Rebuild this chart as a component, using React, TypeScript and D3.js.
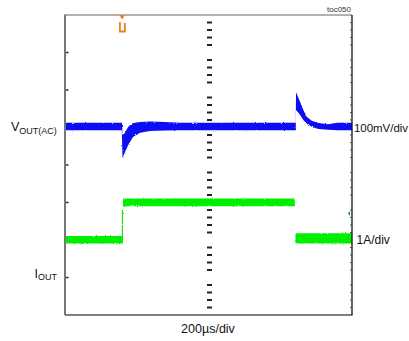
import React from "react";
import * as d3 from "d3";

// Time axis: 10 divisions x 200 µs
const TIME_RANGE_US = [0, 2000];
const Y_DIVS = 8;
const TRIGGER_T = 398;

// VOUT(AC) envelope (mV), 100 mV/div
const VOUT_T = [0, 396, 397, 401, 418, 432, 441, 474, 523, 592, 697, 800, 1603, 1608, 1610, 1638, 1661, 1684, 1719, 1765, 1833, 1900, 2000];
const VOUT_LO = [-10, -10, -28, -84, -68, -57, -49, -28, -17, -12, -11, -10, -10, -10, 44, 31, 17, 8, -1, -7, -9, -10, -10];
const VOUT_HI = [10, 10, 10, -23, -17, -7, -1, 9, 12, 13, 12, 10, 10, 10, 91, 66, 44, 26, 15, 9, 6, 10, 10];
const VOUT_OFFSET_DIV = 1.03;
const VOUT_MV_PER_DIV = 100;

// IOUT envelope (A), 1 A/div
const IOUT_T = [0, 396, 396.5, 404, 404.5, 1601, 1603, 1606, 2000];
const IOUT_LO: (number | null)[] = [-0.1, -0.1, -0.1, -0.1, 0.89, 0.89, null, -0.1, -0.1];
const IOUT_HI: (number | null)[] = [0.1, 0.1, 0.79, 0.79, 1.1, 1.1, null, 0.17, 0.17];
const IOUT_OFFSET_DIV = -1.99;
const IOUT_A_PER_DIV = 1;
const IOUT_MARKER_DIV = -1.29;

const W = 409;
const H = 341;
const L = 65, R = 352, T = 15, B = 315;

export default function App() {
  const x = d3.scaleLinear().domain(TIME_RANGE_US).range([L, R]);
  const y = d3.scaleLinear().domain([-Y_DIVS / 2, Y_DIVS / 2]).range([B, T]);

  const vData = VOUT_T.map((t, i) => ({ t, lo: VOUT_LO[i], hi: VOUT_HI[i] }));
  const iData = IOUT_T.map((t, i) => ({ t, lo: IOUT_LO[i], hi: IOUT_HI[i] }));

  const vArea = d3
    .area<{ t: number; lo: number; hi: number }>()
    .x((d) => x(d.t))
    .y0((d) => y(VOUT_OFFSET_DIV + d.lo / VOUT_MV_PER_DIV))
    .y1((d) => y(VOUT_OFFSET_DIV + d.hi / VOUT_MV_PER_DIV));
  const iArea = d3
    .area<{ t: number; lo: number | null; hi: number | null }>()
    .defined((d) => d.lo != null && d.hi != null)
    .x((d) => x(d.t))
    .y0((d) => y(IOUT_OFFSET_DIV + (d.lo as number) / IOUT_A_PER_DIV))
    .y1((d) => y(IOUT_OFFSET_DIV + (d.hi as number) / IOUT_A_PER_DIV));

  const majorY = d3.range(1, Y_DIVS).map((k) => y(-Y_DIVS / 2 + k));
  const minorY = d3
    .range(1, Y_DIVS * 5)
    .filter((j) => j % 5 !== 0)
    .map((j) => y(-Y_DIVS / 2 + j / 5));
  const xc = x((TIME_RANGE_US[0] + TIME_RANGE_US[1]) / 2);
  const xt = x(TRIGGER_T);
  const ym = y(IOUT_MARKER_DIV);
  const font = "'Liberation Sans', Arial, sans-serif";

  return (
    <svg
      width={W}
      height={H}
      style={{ position: "absolute", left: 0, top: 0, display: "block", background: "#fff" }}
      fontFamily={font}
    >
      <defs>
        <filter id="rough" x="-5%" y="-20%" width="110%" height="140%">
          <feTurbulence type="fractalNoise" baseFrequency="0.9" numOctaves="1" seed="4" />
          <feDisplacementMap in="SourceGraphic" scale="2.5" xChannelSelector="R" yChannelSelector="G" />
        </filter>
      </defs>

      {/* center dashed graticule */}
      {minorY.map((yy, i) => (
        <rect key={"c" + i} x={xc - 1.5} y={yy - 1} width={5} height={2} fill="#222" />
      ))}
      {/* left major ticks */}
      {majorY.map((yy, i) => (
        <rect key={"l" + i} x={L} y={yy - 0.75} width={3.5} height={1.5} fill="#333" />
      ))}
      {/* right minor ticks */}
      {minorY.map((yy, i) => (
        <rect key={"r" + i} x={R - 2} y={yy - 0.5} width={1.5} height={1} fill="#555" />
      ))}

      {/* traces */}
      <path d={iArea(iData) || ""} fill="#00ee00" filter="url(#rough)" />
      <path d={vArea(vData) || ""} fill="#0a0af5" filter="url(#rough)" />

      {/* frame */}
      <line x1={L} y1={T} x2={R} y2={T} stroke="#666" strokeWidth={1.2} />
      <line x1={L} y1={T - 0.5} x2={L} y2={B} stroke="#777" strokeWidth={2} />
      <line x1={L} y1={B} x2={R + 0.5} y2={B} stroke="#555" strokeWidth={1.5} />
      <line x1={R} y1={T} x2={R} y2={B} stroke="#111" strokeWidth={1.3} />

      {/* markers */}
      <path d={`M${xt - 2.8},${T} L${xt + 2.8},${T} L${xt},${T + 4.5} Z`} fill="#f08018" />
      <path
        d={`M${xt - 2.2},${T + 7} V${T + 16.5} H${xt + 2.8} V${T + 8}`}
        fill="none"
        stroke="#f08018"
        strokeWidth={1.8}
      />
      <path d={`M${R - 4},${ym} L${R - 2},${ym - 2.5} L${R - 2},${ym + 2.5} Z`} fill="#1c9a1c" />

      {/* labels */}
      <text x={R - 1} y={12} fontSize={8} textAnchor="end" fill="#333">toc050</text>
      <text x={11} y={131} fontSize={12.5} fill="#111">
        V<tspan fontSize={9} dy={2.5}>OUT(AC)</tspan>
      </text>
      <text x={34.5} y={277.5} fontSize={12.5} fill="#111">
        I<tspan fontSize={9} dy={2}>OUT</tspan>
      </text>
      <text x={354} y={132} fontSize={11.5} fill="#111" textLength={54} lengthAdjust="spacingAndGlyphs">100mV/div</text>
      <text x={356.5} y={243.5} fontSize={12} fill="#111">1A/div</text>
      <text x={xc - 0.5} y={333} fontSize={12.5} textAnchor="middle" fill="#111">200µs/div</text>
    </svg>
  );
}
